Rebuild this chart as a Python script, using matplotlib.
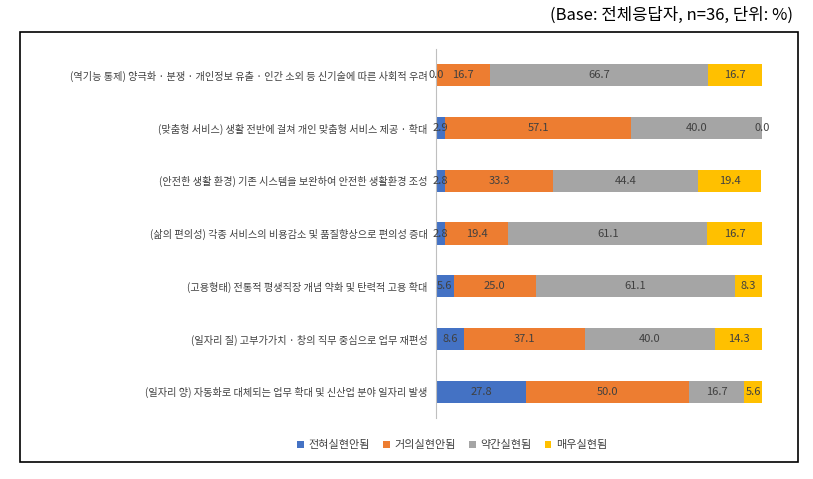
import matplotlib
matplotlib.use("Agg")
import matplotlib.pyplot as plt
from matplotlib.patches import Rectangle

plt.rcParams['font.family'] = ['Noto Sans CJK KR', 'Noto Sans CJK JP', 'Noto Sans CJK SC', 'DejaVu Sans']

categories = [
    "(역기능 통제) 양극화 · 분쟁 · 개인정보 유출 · 인간 소외 등 신기술에 따른 사회적 우려",
    "(맞춤형 서비스) 생활 전반에 걸쳐 개인 맞춤형 서비스 제공 · 확대",
    "(안전한 생활 환경) 기존 시스템을 보완하여 안전한 생활환경 조성",
    "(삶의 편의성) 각종 서비스의 비용감소 및 품질향상으로 편의성 증대",
    "(고용형태) 전통적 평생직장 개념 약화 및 탄력적 고용 확대",
    "(일자리 질) 고부가가치 · 창의 직무 중심으로 업무 재편성",
    "(일자리 양) 자동화로 대체되는 업무 확대 및 신산업 분야 일자리 발생",
]
series_names = ["전혀실현안됨", "거의실현안됨", "약간실현됨", "매우실현됨"]
s1 = [0.0, 2.9, 2.8, 2.8, 5.6, 8.6, 27.8]
s2 = [16.7, 57.1, 33.3, 19.4, 25.0, 37.1, 50.0]
s3 = [66.7, 40.0, 44.4, 61.1, 61.1, 40.0, 16.7]
s4 = [16.7, 0.0, 19.4, 16.7, 8.3, 14.3, 5.6]
colors = ["#4472C4", "#ED7D31", "#A5A5A5", "#FFC000"]

fig = plt.figure(figsize=(8.13, 4.79), dpi=100)
ax = fig.add_axes([0.536, 0.127, 0.401, 0.771])
fig.patches.append(Rectangle((20/813, 1-462/479), 778/813, 430/479, transform=fig.transFigure,
                             fill=False, edgecolor='black', linewidth=1.2))

y = list(range(len(categories)))
left = [0.0]*len(categories)
for vals, c, name in zip([s1, s2, s3, s4], colors, series_names):
    ax.barh(y, vals, left=left, height=0.42, color=c, label=name)
    for yi, v, l in zip(y, vals, left):
        ax.text(l + v/2, yi, f"{v:.1f}", ha='center', va='center', fontsize=8, color='#404040')
    left = [a+b for a, b in zip(left, vals)]

ax.set_xlim(0, 100)
ax.set_ylim(len(categories)-0.5, -0.5)
ax.set_yticks(y)
ax.set_yticklabels(categories, fontsize=7.3, color='#404040')
ax.tick_params(axis='y', length=0, pad=6)
ax.set_xticks([])
for s in ['top', 'right', 'bottom']:
    ax.spines[s].set_visible(False)
ax.spines['left'].set_color('#BFBFBF')

fig.legend(loc='center', bbox_to_anchor=(0.556, 1-445/479), ncol=4, frameon=False,
           fontsize=8, handlelength=0.6, handleheight=0.6, columnspacing=1.2, handletextpad=0.4,
           labelcolor='#404040')
fig.text(0.975, 1-15/479, "(Base: 전체응답자, n=36, 단위: %)", ha='right', va='center', fontsize=12)

fig.savefig("out.png", dpi=100)
